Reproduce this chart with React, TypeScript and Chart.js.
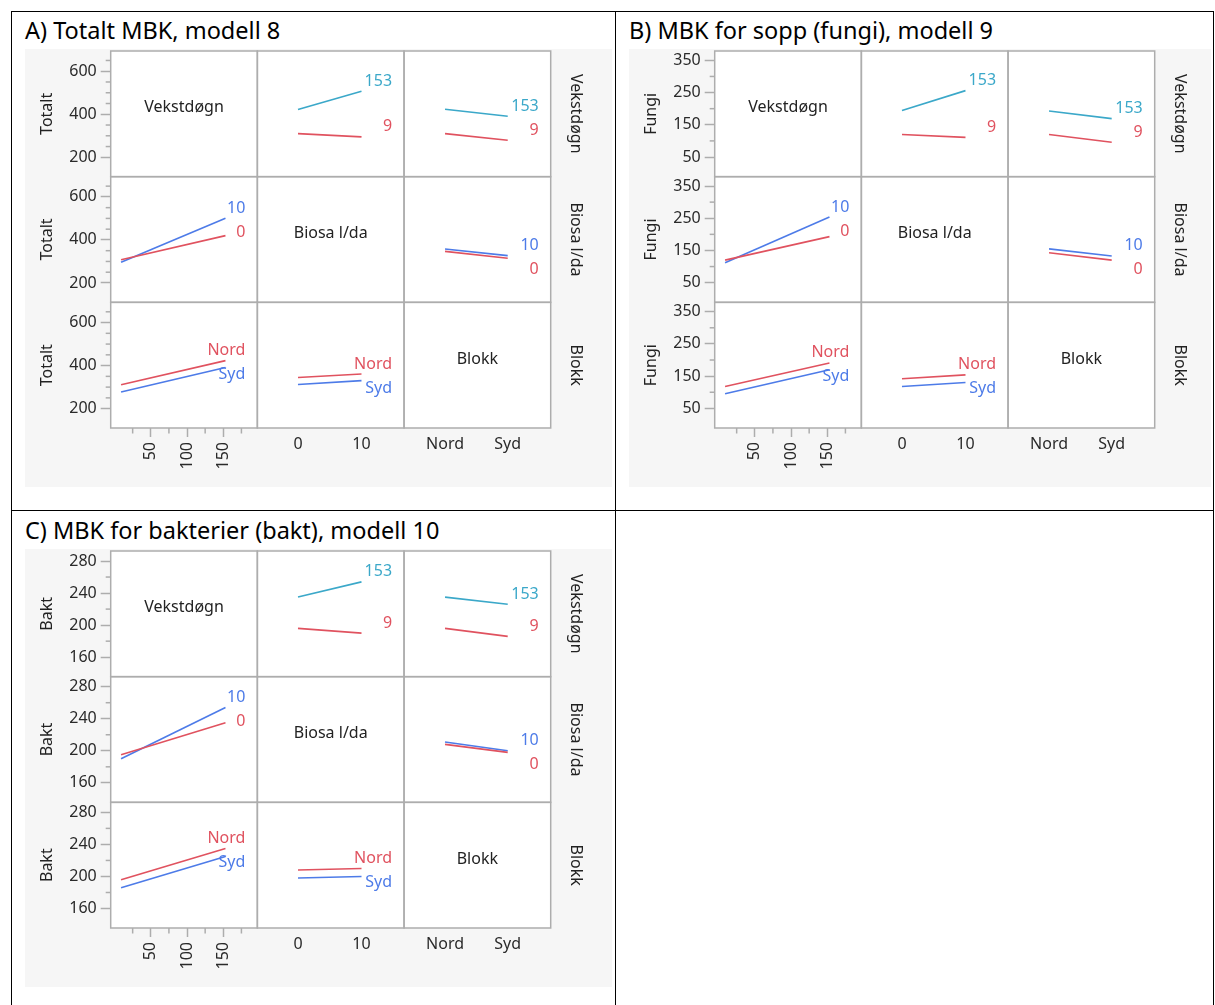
import React, { useEffect, useRef } from 'react';
import { Chart, registerables } from 'chart.js';

Chart.register(...registerables);

const FONT = '"Noto Sans", "Open Sans", sans-serif';
const RED = '#e0525f';
const BLUE = '#4d7be8';
const TEAL = '#3ba8c9';
const GRID = '#adadad';
const TEXT = '#222222';
const TICK_TEXT = '#2a2a2a';

// factor levels
const vekstLevels = [9, 153];
const biosaLevels = [0, 10];
const blokkLevels = ['Nord', 'Syd'];
const factorNames = ['Vekstdøgn', 'Biosa l/da', 'Blokk'];

// axis ticks
const vekstTicks = [25, 50, 75, 100, 125, 150, 175];
const vekstTickLabels = [50, 100, 150];
const totaltTicks = [200, 250, 300, 350, 400, 450, 500, 550, 600, 650];
const totaltTickLabels = [200, 400, 600];
const fungiTicks = [50, 100, 150, 200, 250, 300, 350];
const fungiTickLabels = [50, 150, 250, 350];
const baktTicks = [160, 180, 200, 220, 240, 260, 280];
const baktTickLabels = [160, 200, 240, 280];

// A) Totalt — each cell: [trace level 1, trace level 2], values at the two x levels
const totaltVekstByBiosa = [[310, 295], [422, 507]];
const totaltVekstByBlokk = [[310, 279], [423, 391]];
const totaltBiosaByVekst = [[308, 420], [296, 501]];
const totaltBiosaByBlokk = [[347, 315], [358, 327]];
const totaltBlokkByVekst = [[311, 423], [277, 391]];
const totaltBlokkByBiosa = [[345, 361], [312, 330]];

// B) Fungi
const fungiVekstByBiosa = [[120, 111], [194, 256]];
const fungiVekstByBlokk = [[120, 96], [193, 169]];
const fungiBiosaByVekst = [[120, 193], [112, 254]];
const fungiBiosaByBlokk = [[143, 120], [155, 133]];
const fungiBlokkByVekst = [[118, 191], [95, 170]];
const fungiBlokkByBiosa = [[142, 154], [118, 130]];

// C) Bakt
const baktVekstByBiosa = [[196, 190], [235, 254]];
const baktVekstByBlokk = [[196, 186], [235, 226]];
const baktBiosaByVekst = [[195, 235], [190, 254]];
const baktBiosaByBlokk = [[208, 198], [211, 200]];
const baktBlokkByVekst = [[196, 235], [186, 225]];
const baktBlokkByBiosa = [[208, 210], [198, 200]];

const panels = [
  {
    id: 'A', title: 'A) Totalt MBK, modell 8', yTitle: 'Totalt', yRange: [110, 694],
    ticks: totaltTicks, tickLabels: totaltTickLabels,
    cells: [[null, totaltVekstByBiosa, totaltVekstByBlokk], [totaltBiosaByVekst, null, totaltBiosaByBlokk], [totaltBlokkByVekst, totaltBlokkByBiosa, null]],
    left: 25, top: 49, width: 587, height: 438, titleLeft: 25, titleTop: 19,
  },
  {
    id: 'B', title: 'B) MBK for sopp (fungi), modell 9', yTitle: 'Fungi', yRange: [-11, 379],
    ticks: fungiTicks, tickLabels: fungiTickLabels,
    cells: [[null, fungiVekstByBiosa, fungiVekstByBlokk], [fungiBiosaByVekst, null, fungiBiosaByBlokk], [fungiBlokkByVekst, fungiBlokkByBiosa, null]],
    left: 628.5, top: 49, width: 582, height: 438, titleLeft: 629, titleTop: 19,
  },
  {
    id: 'C', title: 'C) MBK for bakterier (bakt), modell 10', yTitle: 'Bakt', yRange: [135.7, 292.5],
    ticks: baktTicks, tickLabels: baktTickLabels,
    cells: [[null, baktVekstByBiosa, baktVekstByBlokk], [baktBiosaByVekst, null, baktBiosaByBlokk], [baktBlokkByVekst, baktBlokkByBiosa, null]],
    left: 25, top: 549, width: 587, height: 438, titleLeft: 25, titleTop: 519,
  },
];

const xRanges = [[-5.3, 197], [-6.4, 16.7], [-0.654, 1.686]];
const AREA_LEFT = 85.7;
const AREA_RIGHT = 525.7;
const AREA_TOP = 2;
const AREA_BOTTOM = 379;

function buildChart(canvas: HTMLCanvasElement, p: any) {
  const W = p.width;
  const H = p.height;
  const xNum: number[][] = [vekstLevels, biosaLevels, blokkLevels.map((_, i) => i)];
  const traceNames = [vekstLevels.map(String), biosaLevels.map(String), blokkLevels];
  const traceColors = [[RED, TEAL], [RED, BLUE], [RED, BLUE]];
  const tickFont = { family: FONT, size: 16, lineHeight: 1.2 };

  const datasets: any[] = [];
  for (let r = 0; r < 3; r++) {
    for (let c = 0; c < 3; c++) {
      if (r === c) continue;
      const cell = p.cells[r][c];
      cell.forEach((series: number[], k: number) => {
        datasets.push({
          label: traceNames[r][k],
          data: xNum[c].map((xv, i) => ({ x: xv, y: series[i] })),
          xAxisID: 'x' + c,
          yAxisID: 'y' + r,
          borderColor: traceColors[r][k],
          backgroundColor: traceColors[r][k],
          borderWidth: 1.6,
          pointRadius: 0,
          fill: false,
          tension: 0,
        });
      });
    }
  }

  const scales: any = {};
  for (let c = 0; c < 3; c++) {
    scales['x' + c] = {
      type: 'linear', position: 'bottom', stack: 'cols', stackWeight: 1, weight: c + 1,
      min: xRanges[c][0], max: xRanges[c][1],
      afterBuildTicks: (s: any) => { s.ticks = (c === 0 ? vekstTicks : xNum[c]).map((v) => ({ value: v })); },
      ticks: {
        autoSkip: false, font: tickFont, color: TICK_TEXT,
        minRotation: c === 0 ? 90 : 0, maxRotation: c === 0 ? 90 : 0,
        padding: c === 0 ? 5 : 7,
        callback: (v: number) => c === 0 ? (vekstTickLabels.includes(v) ? String(v) : '') : c === 1 ? String(v) : blokkLevels[v],
      },
      grid: {
        drawOnChartArea: false, display: c === 0, drawTicks: c === 0, tickLength: 9, tickWidth: 1.5,
        tickColor: (ctx: any) => vekstTickLabels.includes(ctx.tick && ctx.tick.value) ? GRID : 'rgba(0,0,0,0)',
      },
      border: { display: false },
      afterFit: (s: any) => { s.height = H - AREA_BOTTOM; s.paddingLeft = 0; s.paddingRight = 0; },
    };
  }
  for (let r = 0; r < 3; r++) {
    scales['y' + r] = {
      type: 'linear', position: 'left', stack: 'rows', stackWeight: 1, weight: 3 - r,
      min: p.yRange[0], max: p.yRange[1],
      afterBuildTicks: (s: any) => { s.ticks = p.ticks.map((v: number) => ({ value: v })); },
      ticks: {
        autoSkip: false, font: tickFont, color: TICK_TEXT, padding: 4,
        callback: (v: number) => p.tickLabels.includes(v) ? String(v) : '',
      },
      grid: {
        drawOnChartArea: false, drawTicks: true, tickLength: 10, tickWidth: 1.5,
        tickColor: (ctx: any) => p.tickLabels.includes(ctx.tick && ctx.tick.value) ? GRID : 'rgba(0,0,0,0)',
      },
      border: { display: false },
      title: { display: true, text: p.yTitle, font: { family: FONT, size: 16 }, color: TEXT, padding: { top: 13, bottom: 0 } },
      afterFit: (s: any) => { s.width = AREA_LEFT; s.paddingTop = 0; s.paddingBottom = 0; },
    };
  }

  const matrixPlugin = {
    id: 'matrix' + p.id,
    beforeDraw(chart: any) {
      const { ctx, chartArea: a } = chart;
      ctx.save();
      ctx.fillStyle = '#f6f6f6';
      ctx.fillRect(0, 0, chart.width, chart.height);
      ctx.fillStyle = '#ffffff';
      ctx.fillRect(a.left, a.top, a.right - a.left, a.bottom - a.top);
      ctx.restore();
    },
    afterDraw(chart: any) {
      const { ctx, chartArea: a } = chart;
      ctx.save();
      // cell borders
      ctx.strokeStyle = GRID;
      ctx.lineWidth = 1.5;
      for (let c = 0; c < 3; c++) {
        const xs = chart.scales['x' + c];
        for (let r = 0; r < 3; r++) {
          const ys = chart.scales['y' + r];
          ctx.strokeRect(xs.left, ys.top, xs.right - xs.left, ys.bottom - ys.top);
        }
      }
      // minor ticks
      for (let r = 0; r < 3; r++) {
        const ys = chart.scales['y' + r];
        p.ticks.forEach((v: number) => {
          if (p.tickLabels.includes(v)) return;
          const py = ys.getPixelForValue(v);
          ctx.beginPath();
          ctx.moveTo(a.left - 5, py);
          ctx.lineTo(a.left, py);
          ctx.stroke();
        });
      }
      const x0 = chart.scales['x0'];
      vekstTicks.forEach((v) => {
        if (vekstTickLabels.includes(v)) return;
        const px = x0.getPixelForValue(v);
        ctx.beginPath();
        ctx.moveTo(px, a.bottom);
        ctx.lineTo(px, a.bottom + 5.5);
        ctx.stroke();
      });
      // diagonal factor names
      ctx.font = `16px ${FONT}`;
      ctx.fillStyle = TEXT;
      ctx.textAlign = 'center';
      ctx.textBaseline = 'middle';
      for (let i = 0; i < 3; i++) {
        const xs = chart.scales['x' + i];
        const ys = chart.scales['y' + i];
        ctx.fillText(factorNames[i], (xs.left + xs.right) / 2, (ys.top + ys.bottom) / 2 - 6);
      }
      // right-hand factor names
      for (let r = 0; r < 3; r++) {
        const ys = chart.scales['y' + r];
        ctx.save();
        ctx.translate(a.right + 24.5, (ys.top + ys.bottom) / 2);
        ctx.rotate(Math.PI / 2);
        ctx.fillText(factorNames[r], 0, 0);
        ctx.restore();
      }
      // level labels at line ends
      ctx.textAlign = 'right';
      for (let r = 0; r < 3; r++) {
        for (let c = 0; c < 3; c++) {
          if (r === c) continue;
          const xs = chart.scales['x' + c];
          const ys = chart.scales['y' + r];
          const cell = p.cells[r][c];
          const items = cell.map((series: number[], k: number) => ({
            text: traceNames[r][k], color: traceColors[r][k],
            y: ys.getPixelForValue(series[series.length - 1]) - 10,
          }));
          items.sort((u: any, w: any) => u.y - w.y);
          for (let i = 1; i < items.length; i++) {
            items[i].y = Math.max(items[i].y, items[i - 1].y + 24);
          }
          items.forEach((it: any) => {
            ctx.fillStyle = it.color;
            ctx.fillText(it.text, xs.right - 12, it.y);
          });
        }
      }
      ctx.restore();
    },
  };

  return new Chart(canvas, {
    type: 'line',
    data: { datasets },
    options: {
      responsive: false,
      animation: false,
      events: [],
      layout: { autoPadding: false, padding: { left: 0, top: AREA_TOP, right: W - AREA_RIGHT, bottom: 0 } },
      plugins: { legend: { display: false }, tooltip: { enabled: false }, title: { display: false } },
      scales,
    } as any,
    plugins: [matrixPlugin],
  });
}

function Panel({ p }: { p: any }) {
  const ref = useRef<HTMLCanvasElement>(null);
  useEffect(() => {
    const chart = buildChart(ref.current as HTMLCanvasElement, p);
    return () => chart.destroy();
  }, [p]);
  return (
    <div style={{ position: 'absolute', left: p.left, top: p.top, width: p.width, height: p.height }}>
      <canvas ref={ref} width={p.width} height={p.height} style={{ display: 'block', width: p.width, height: p.height }} />
    </div>
  );
}

export default function App() {
  const line = (left: number, top: number, width: number, height: number) => (
    <div style={{ position: 'absolute', left, top, width, height, background: '#000' }} />
  );
  return (
    <div style={{ position: 'absolute', left: 0, top: 0, width: 1215, height: 1005, background: '#fff', overflow: 'hidden' }}>
      {line(11, 11, 1203, 1)}
      {line(11, 510, 1203, 1)}
      {line(11, 11, 1, 994)}
      {line(615, 11, 1, 994)}
      {line(1213, 11, 1, 994)}
      {panels.map((p) => (
        <div key={'t' + p.id} style={{ position: 'absolute', left: p.titleLeft, top: p.titleTop, fontFamily: FONT, fontSize: 23.5, lineHeight: 1, color: '#000', whiteSpace: 'nowrap' }}>
          {p.title}
        </div>
      ))}
      {panels.map((p) => <Panel key={p.id} p={p} />)}
    </div>
  );
}
